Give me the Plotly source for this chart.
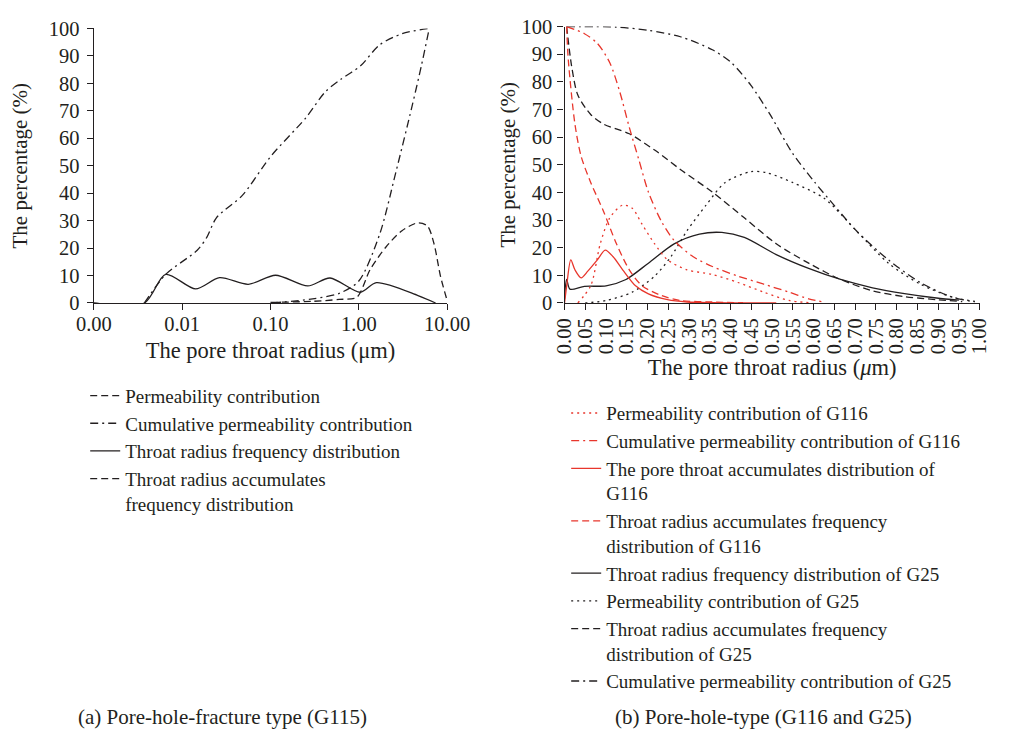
import plotly.graph_objects as go

# ---------------- Left panel (G115), log x ----------------
a_freq_x = [0.001, 0.00374, 0.0065, 0.0142, 0.0265, 0.056, 0.114, 0.264, 0.472, 1.04, 1.58, 4.68, 7.4]
a_freq_y = [0, 0, 10.4, 5.1, 9.2, 6.8, 10.1, 6.2, 9.1, 3.9, 7.4, 2.7, 0]

a_accfreq_x = [0.00374, 0.0065, 0.0148, 0.019, 0.0244, 0.048, 0.1007, 0.252, 0.417, 0.633, 1.04, 1.72, 3.09, 6.0]
a_accfreq_y = [0, 10.4, 19.2, 23.9, 31.0, 39.2, 53.4, 67.5, 76.9, 81.6, 86.3, 94.0, 98.1, 99.9]

a_perm_x = [0.1, 0.3, 0.6, 0.95, 1.34, 2.03, 3.08, 4.68, 6.0, 7.1, 8.4, 10.0]
a_perm_y = [0.2, 0.6, 1.3, 2.1, 12.1, 20.4, 26.3, 29.2, 28.0, 21.6, 9.8, 0.9]

a_cum_x = [0.106, 0.3, 0.6, 1.0, 1.72, 2.62, 3.96, 5.1, 6.27]
a_cum_y = [0.0, 1.5, 3.5, 8.0, 25.0, 47.5, 71.0, 86.3, 100.0]

a_xticks = [0.001, 0.01, 0.1, 1, 10]
a_xticktext = ["0.00", "0.01", "0.10", "1.00", "10.00"]

# ---------------- Right panel (G116, G25), linear x ----------------
g25_cum_x = [0.005, 0.125, 0.202, 0.279, 0.356, 0.402, 0.449, 0.495, 0.549, 0.603, 0.649, 0.703, 0.78, 0.857, 0.934, 0.988]
g25_cum_y = [100, 99.8, 98.6, 96.3, 91.6, 86.9, 78.7, 68.2, 54.2, 43.6, 35.4, 26.1, 15.6, 7.4, 2.1, 0.4]

g25_perm_x = [0.05, 0.1, 0.163, 0.217, 0.256, 0.295, 0.341, 0.387, 0.449, 0.487, 0.549, 0.626, 0.703, 0.78, 0.857, 0.934, 0.996]
g25_perm_y = [0, 0.9, 3.9, 9.7, 16.7, 26.1, 35.4, 43.6, 47.5, 47.1, 43.6, 37.8, 26.1, 14.4, 6.8, 2.1, 0.4]

g25_acc_x = [0.005, 0.017, 0.032, 0.063, 0.094, 0.156, 0.217, 0.279, 0.356, 0.433, 0.51, 0.588, 0.665, 0.742, 0.819, 0.896, 0.958]
g25_acc_y = [100, 85.7, 75.2, 68.2, 64.7, 61.2, 55.3, 48.3, 40.1, 30.8, 21.4, 14.4, 8.5, 4.4, 2.3, 1.2, 0.5]

g25_freq_x = [0.0, 0.005, 0.013, 0.048, 0.1, 0.148, 0.202, 0.264, 0.325, 0.379, 0.433, 0.51, 0.588, 0.665, 0.742, 0.819, 0.896, 0.95]
g25_freq_y = [1.5, 8.5, 5.0, 6.0, 6.2, 8.5, 14.4, 21.4, 24.9, 25.5, 23.7, 17.5, 12.5, 8.5, 5.5, 3.4, 1.8, 1.0]

g116_cum_x = [0.005, 0.048, 0.079, 0.109, 0.133, 0.156, 0.179, 0.202, 0.233, 0.264, 0.31, 0.356, 0.418, 0.48, 0.541, 0.588, 0.622]
g116_cum_y = [100, 97.4, 93.9, 86.9, 76.4, 63.5, 51.8, 40.1, 29.6, 22.6, 16.7, 13.2, 9.7, 6.8, 3.9, 1.5, 0.4]

g116_acc_x = [0.005, 0.009, 0.025, 0.04, 0.063, 0.094, 0.125, 0.156, 0.187, 0.233, 0.279, 0.356, 0.43]
g116_acc_y = [100, 88, 64.7, 53, 43.6, 33.1, 21.4, 12, 6.2, 2.7, 0.9, 0.35, 0.1]

g116_freq_x = [0.0, 0.005, 0.015, 0.025, 0.04, 0.056, 0.079, 0.098, 0.117, 0.14, 0.171, 0.202, 0.248, 0.295, 0.356, 0.51]
g116_freq_y = [0, 6, 15.6, 12, 9.1, 11.5, 15.6, 19.1, 16.7, 12, 6.2, 3.3, 1.2, 0.35, 0.1, 0]

g116_perm_x = [0.032, 0.063, 0.086, 0.109, 0.14, 0.163, 0.187, 0.217, 0.248, 0.295, 0.356, 0.418, 0.48, 0.541, 0.588]
g116_perm_y = [0, 6.2, 21.4, 30.8, 35.4, 34.3, 28.4, 21.4, 15.6, 12, 10.3, 7.4, 3.9, 0.9, 0.1]

b_xticks = [round(i * 0.05, 2) for i in range(21)]
b_xticktext = ["%.2f" % v for v in b_xticks]

legend_a = ["Permeability contribution",
            "Cumulative permeability contribution",
            "Throat radius frequency distribution",
            "Throat radius accumulates<br>frequency distribution"]
legend_b = ["Permeability contribution of G116",
            "Cumulative permeability contribution of G116",
            "The pore throat accumulates distribution of<br>G116",
            "Throat radius accumulates frequency<br>distribution of G116",
            "Throat radius frequency distribution of G25",
            "Permeability contribution of G25",
            "Throat radius accumulates frequency<br>distribution of G25",
            "Cumulative permeability contribution of G25"]

# ---------------- styles ----------------
BLACK = "#231f20"
RED = "#e8362c"
DASH = "7px,4px"
DASHDOT = "8px,4px,2px,4px"
DOT = "2px,4px"
FONT = "Liberation Serif"
LW = 1.3

fig = go.Figure()

def add(x, y, color, dash, xa, ya, width=LW):
    fig.add_trace(go.Scatter(x=x, y=y, mode="lines", xaxis=xa, yaxis=ya,
                             line=dict(color=color, dash=dash, width=width, shape="spline", smoothing=0.8),
                             showlegend=False, hoverinfo="skip"))

# left panel
add(a_freq_x, a_freq_y, BLACK, "solid", "x", "y")
add(a_accfreq_x, a_accfreq_y, BLACK, DASHDOT, "x", "y")
add(a_perm_x, a_perm_y, BLACK, DASH, "x", "y")
add(a_cum_x, a_cum_y, BLACK, DASHDOT, "x", "y")

# right panel
add(g25_cum_x, g25_cum_y, BLACK, DASHDOT, "x2", "y2")
add(g25_perm_x, g25_perm_y, BLACK, DOT, "x2", "y2")
add(g25_acc_x, g25_acc_y, BLACK, DASH, "x2", "y2")
add(g25_freq_x, g25_freq_y, BLACK, "solid", "x2", "y2")
add(g116_cum_x, g116_cum_y, RED, DASHDOT, "x2", "y2")
add(g116_acc_x, g116_acc_y, RED, DASH, "x2", "y2")
add(g116_freq_x, g116_freq_y, RED, "solid", "x2", "y2")
add(g116_perm_x, g116_perm_y, RED, DOT, "x2", "y2")

# legend entries
def leg(name, color, dash, legend):
    fig.add_trace(go.Scatter(x=[None], y=[None], mode="lines", name=name, legend=legend,
                             line=dict(color=color, dash=dash, width=LW), xaxis="x", yaxis="y"))

for name, dash in zip(legend_a, [DASH, DASHDOT, "solid", DASH]):
    leg(name, BLACK, dash, "legend")
for name, color, dash in zip(legend_b,
                             [RED, RED, RED, RED, BLACK, BLACK, BLACK, BLACK],
                             [DOT, DASHDOT, "solid", DASH, "solid", DOT, DASH, DASHDOT]):
    leg(name, color, dash, "legend2")

axis_common = dict(showline=True, linecolor=BLACK, linewidth=1.4, ticks="outside", ticklen=6,
                   tickcolor=BLACK, tickwidth=1.2, showgrid=False, zeroline=False,
                   tickfont=dict(family=FONT, size=20.5, color=BLACK))
xtitle_font = dict(family=FONT, size=22.5, color=BLACK)
ytitle_font = dict(family=FONT, size=21, color=BLACK)
LEG_FS = 19
CAP_FS = 21

H = 733.0
W = 1026.0
fig.update_layout(
    width=1026, height=733,
    margin=dict(l=0, r=0, t=0, b=0),
    paper_bgcolor="white", plot_bgcolor="white",
    font=dict(family=FONT, color=BLACK),
    xaxis=dict(type="log", range=[-3, 1], tickvals=a_xticks, ticktext=a_xticktext,
               domain=[79 / W, 447 / W], anchor="y", ticklabelstandoff=-4,
               title=dict(text="The pore throat radius (μm)", font=xtitle_font, standoff=8),
               **axis_common),
    yaxis=dict(range=[0, 100], dtick=10, domain=[1 - 301 / H, 1 - 18 / H], anchor="x",
               ticklabelstandoff=3,
               title=dict(text="The percentage (%)", font=ytitle_font, standoff=15),
               **axis_common),
    xaxis2=dict(range=[0, 1], tickvals=b_xticks, ticktext=b_xticktext, tickangle=-90,
                domain=[569.3 / W, 1001.7 / W], anchor="y2",
                title=dict(text="The pore throat radius (<i>μ</i>m)", font=xtitle_font, standoff=6),
                **axis_common),
    yaxis2=dict(range=[0, 100], dtick=10, domain=[1 - 301 / H, 1 - 16 / H], anchor="x2",
                ticklabelstandoff=1,
                title=dict(text="The percentage (%)", font=ytitle_font, standoff=0),
                **axis_common),
    legend=dict(x=70 / W, y=1 - 377 / H, xanchor="left", yanchor="top", valign="top",
                font=dict(family=FONT, size=LEG_FS, color=BLACK), bgcolor="rgba(0,0,0,0)",
                itemwidth=30, tracegroupgap=0, traceorder="normal"),
    legend2=dict(x=571 / W, y=1 - 395 / H, xanchor="left", yanchor="top", valign="top",
                 font=dict(family=FONT, size=LEG_FS, color=BLACK), bgcolor="rgba(0,0,0,0)",
                 itemwidth=30, tracegroupgap=0, traceorder="normal"),
    annotations=[
        dict(text="(a) Pore-hole-fracture type (G115)", x=213 / W, y=1 - 728 / H, xref="paper", yref="paper",
             showarrow=False, font=dict(family=FONT, size=CAP_FS, color=BLACK), xanchor="center", yanchor="middle"),
        dict(text="(b) Pore-hole-type (G116 and G25)", x=777 / W, y=1 - 728 / H, xref="paper", yref="paper",
             showarrow=False, font=dict(family=FONT, size=CAP_FS, color=BLACK), xanchor="center", yanchor="middle"),
    ],
)

fig.write_html("out.html")
